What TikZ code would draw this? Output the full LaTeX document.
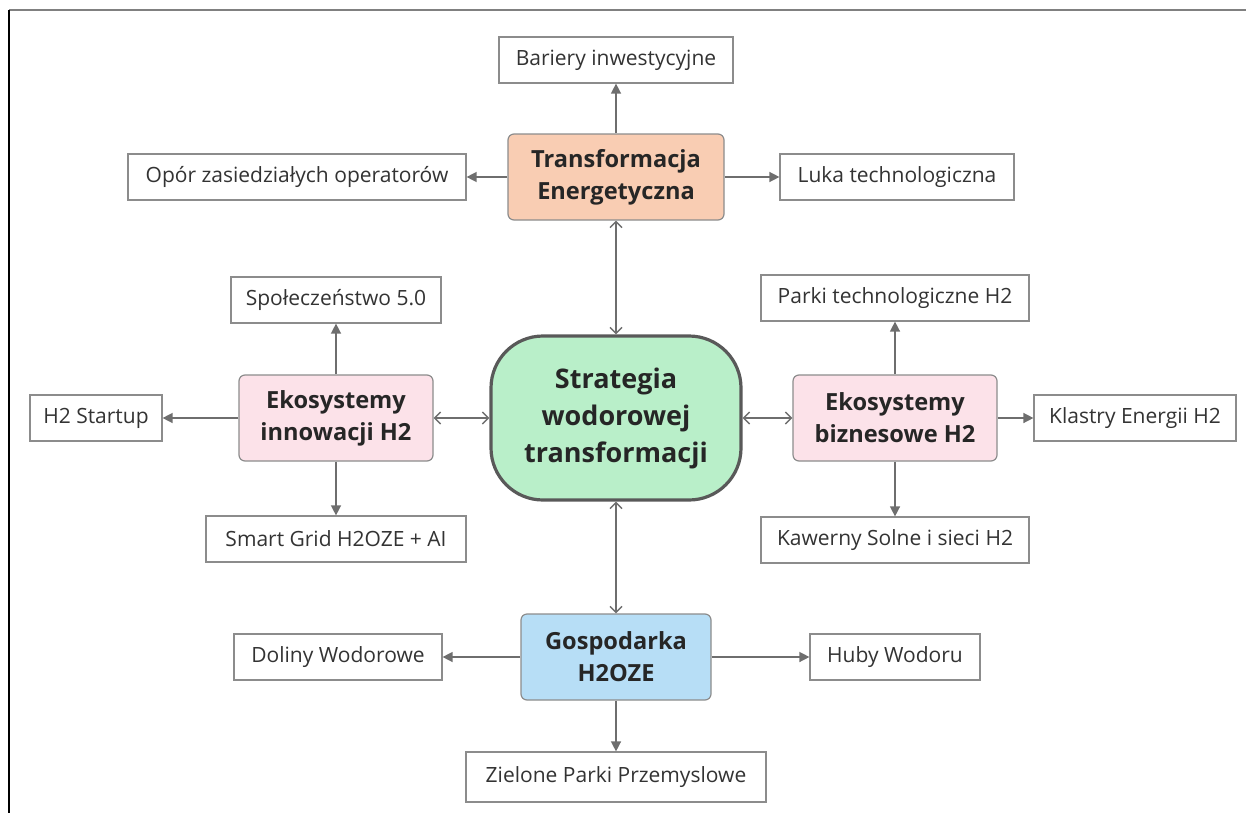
\documentclass[tikz,border=0pt]{standalone}
\usepackage{fontspec}
\setmainfont{Open Sans}
\usepackage{xcolor}
\usetikzlibrary{arrows.meta,positioning}

\definecolor{linegray}{HTML}{6E6E6E}
\definecolor{boxgray}{HTML}{8C8C8C}
\definecolor{peach}{HTML}{F9CDB3}
\definecolor{rose}{HTML}{FCE2E9}
\definecolor{mint}{HTML}{B9EFC9}
\definecolor{sky}{HTML}{B7DEF6}

\tikzset{
  leaf/.style={draw=boxgray, fill=white, rectangle, line width=0.6pt,
    minimum height=23pt, inner sep=1pt, text=black!80, font=\fontsize{10.5}{12}\selectfont},
  hub/.style={draw=boxgray, rectangle, rounded corners=3pt, line width=0.6pt,
    minimum height=43pt, inner sep=1pt, align=center, text=black!85,
    font=\fontsize{11.8}{16}\selectfont\bfseries},
  core/.style={draw=black!65, fill=mint, rectangle, rounded corners=26pt,
    line width=1.6pt, minimum width=125pt, minimum height=82pt, inner sep=1pt,
    align=center, text=black!85, font=\fontsize{13.5}{18.5}\selectfont\bfseries},
  link/.style={draw=linegray, line width=0.7pt,
    {Straight Barb[length=3pt,width=6pt]}-{Straight Barb[length=3pt,width=6pt]}},
  branch/.style={draw=linegray, line width=0.7pt, -{Triangle[length=5pt,width=5pt]}}
}

\begin{document}
\begin{tikzpicture}[x=0.5pt, y=-0.5pt]
  \useasboundingbox (0,0) rectangle (1246,813);
  \draw[gray, line width=1pt] (9,10) -- (1246,10);
  \draw[black, line width=1pt] (9,10) -- (9,813);

  % centre
  \node[core] (strategia) at (616,418) {Strategia\\wodorowej\\transformacji};

  % top
  \node[hub, fill=peach, minimum width=108pt] (energia) at (616,177) {Transformacja\\Energetyczna};
  \node[leaf, minimum width=117pt] (bariery) at (616,60) {Bariery inwestycyjne};
  \node[leaf, minimum width=169pt] (opor) at (297,177) {Opór zasiedziałych operatorów};
  \node[leaf, minimum width=117pt] (luka) at (897,177) {Luka technologiczna};

  % left
  \node[hub, fill=rose, minimum width=97pt] (innowacje) at (336,418) {Ekosystemy\\innowacji H2};
  \node[leaf, minimum width=105pt] (spoleczenstwo) at (336,300) {Społeczeństwo 5.0};
  \node[leaf, minimum width=66pt] (startup) at (96,418) {H2 Startup};
  \node[leaf, minimum width=130pt] (smartgrid) at (336,539) {Smart Grid H2OZE + AI};

  % right
  \node[hub, fill=rose, minimum width=102pt] (biznes) at (895,418) {Ekosystemy\\biznesowe H2};
  \node[leaf, minimum width=134pt] (parki) at (895,298) {Parki technologiczne H2};
  \node[leaf, minimum width=101pt] (klastry) at (1135,418) {Klastry Energii H2};
  \node[leaf, minimum width=134pt] (kawerny) at (895,540) {Kawerny Solne i sieci H2};

  % bottom
  \node[hub, fill=sky, minimum width=95pt] (gospodarka) at (616,657) {Gospodarka\\H2OZE};
  \node[leaf, minimum width=104pt] (doliny) at (338,657) {Doliny Wodorowe};
  \node[leaf, minimum width=85pt] (huby) at (895,657) {Huby Wodoru};
  \node[leaf, minimum width=150pt, minimum height=25pt] (zielone) at (616,777) {Zielone Parki Przemyslowe};

  % links to the centre
  \draw[link] (strategia) -- (energia);
  \draw[link] (strategia) -- (innowacje);
  \draw[link] (strategia) -- (biznes);
  \draw[link] (strategia) -- (gospodarka);

  % branches
  \draw[branch] (energia) -- (bariery);
  \draw[branch] (energia) -- (opor);
  \draw[branch] (energia) -- (luka);
  \draw[branch] (innowacje) -- (spoleczenstwo);
  \draw[branch] (innowacje) -- (startup);
  \draw[branch] (innowacje) -- (smartgrid);
  \draw[branch] (biznes) -- (parki);
  \draw[branch] (biznes) -- (klastry);
  \draw[branch] (biznes) -- (kawerny);
  \draw[branch] (gospodarka) -- (doliny);
  \draw[branch] (gospodarka) -- (huby);
  \draw[branch] (gospodarka) -- (zielone);
\end{tikzpicture}
\end{document}
